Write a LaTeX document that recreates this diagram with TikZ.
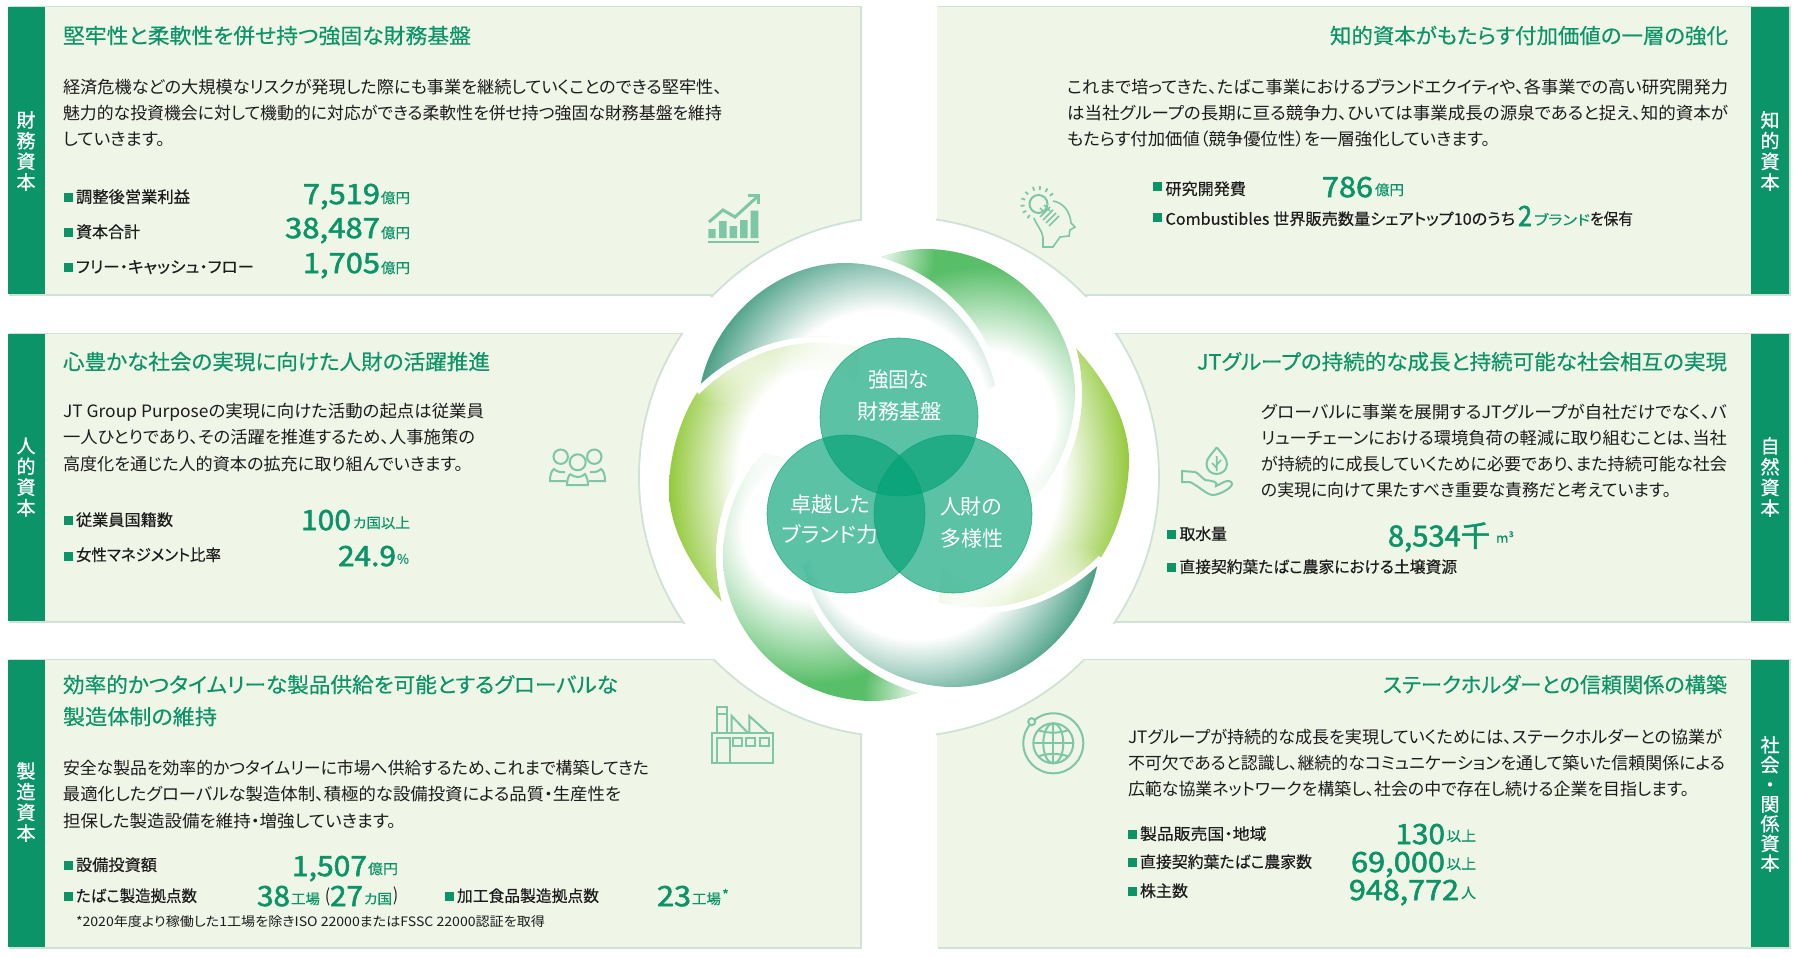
\documentclass[tikz,border=0pt]{standalone}
\usepackage{fontspec}
\setmainfont{Noto Sans CJK JP}[RawFeature=+palt]
\newfontfamily\jpm{Noto Sans CJK JP}[FakeBold=0.3,RawFeature=+palt]
\newfontfamily\jpn{Noto Sans CJK JP}[FakeBold=1.8,RawFeature=+palt]
\newfontfamily\jpv{Noto Sans CJK JP}[FakeBold=0.9,RawFeature=+palt]
\usetikzlibrary{fadings}
\definecolor{gr}{HTML}{0A9468}
\definecolor{panel}{HTML}{EFF5E7}
\definecolor{edgeg}{HTML}{CFE2D5}
\definecolor{ico}{HTML}{7DC7A7}
\definecolor{tx}{HTML}{1C1C1C}
\definecolor{teala}{HTML}{2B8F70}
\definecolor{greena}{HTML}{58BE68}
\definecolor{yela}{HTML}{93C93A}
\definecolor{venn}{HTML}{00A175}
\pgfdeclareradialshading{tealsh}{\pgfpoint{0bp}{0bp}}{color(0bp)=(white);color(14bp)=(white);color(25bp)=(teala);color(50bp)=(teala)}
\pgfdeclareradialshading{greensh}{\pgfpoint{0bp}{0bp}}{color(0bp)=(white);color(10bp)=(white);color(22bp)=(greena);color(50bp)=(greena)}
\pgfdeclareradialshading{yelsh}{\pgfpoint{0bp}{0bp}}{color(0bp)=(white);color(13bp)=(white);color(25bp)=(yela);color(50bp)=(yela)}
\tikzfading[name=blob, inner color=transparent!0, outer color=transparent!100]
\newcounter{nn}
\newcommand\T[7]{\stepcounter{nn}\node[txt,text=#2,anchor=base west] (t\thenn) at (#3,#4+0.36*#5) {#1\fontsize{#5}{#5}\selectfont\resizebox{#6pt}{\height}{#7}};}
\newcommand\B[2]{\fill[gr] (#1,#2-4.5) rectangle (#1+8.5,#2+4.5);}
\newcommand\V[4]{\stepcounter{nn}\node[txt,text=white,align=center,font=\jpv\fontsize{19}{#3}\selectfont] (t\thenn) at (#1,#2) {#4};}
\newcommand\Panel[4]{\fill[edgeg] (#1+1,#2-1) rectangle (#3+1.5,#4+1.8);\fill[panel] (#1,#2) rectangle (#3,#4);}
\newcommand\bladeset{%
  \begin{scope}
    \clip (1075,347) .. controls (1110,385) and (1129,425) .. (1129,460) .. controls (1129,490) and (1120,530) .. (1098,562) .. controls (1053,610) and (988,622) .. (938,608) -- (950,500) -- (1040,497) .. controls (1065,470) and (1082,435) .. (1082,395) .. controls (1082,378) and (1080,362) .. (1075,347) -- cycle;
    \shade[shading=yelsh] (840,260) rectangle (1130,680);
    \fill[white,path fading=blob] (1075,605) circle (60);
    \fill[white,path fading=blob] (960,615) circle (75);
  \end{scope}
  \begin{scope}
    \clip (876,259) .. controls (895,252) and (910,249) .. (927,249) .. controls (1010,250) and (1075,318) .. (1075,393) .. controls (1075,430) and (1060,470) .. (1035,497) -- (960,480) -- (995,385) .. controls (978,315) and (925,272) .. (876,259) -- cycle;
    \shade[shading=greensh] (810,245) rectangle (1160,595);
    \fill[white,path fading=blob] (875,255) circle (60);
    \fill[white,path fading=blob] (1040,505) circle (65);
  \end{scope}
  \begin{scope}
    \clip (700,388) .. controls (712,320) and (775,263) .. (845,263) .. controls (915,263) and (978,315) .. (995,385) -- (930,440) -- (860,342) .. controls (810,328) and (745,340) .. (700,388) -- cycle;
    \shade[shading=tealsh] (685,225) rectangle (1075,615);
  \end{scope}
}
\newcommand\bladegaps{%
  \draw[gap] (870,258) .. controls (925,270) and (982,312) .. (998,385);
  \draw[gap] (1072,345) .. controls (1077,360) and (1078.5,378) .. (1078.5,395) .. controls (1078.5,435) and (1064,472) .. (1038,498);
  \draw[gap] (697,392) .. controls (745,343) and (810,331) .. (862,345);
}
\begin{document}
\begin{tikzpicture}[x=1pt,y=-1pt,
  txt/.style={inner sep=0pt,outer sep=0pt},
  gap/.style={draw=white,line width=6pt},
  icon/.style={draw=ico,line width=2pt,fill=none},
  vennc/.style={circle,minimum size=158pt,inner sep=0pt,fill=venn,fill opacity=.64,draw=venn,draw opacity=.7,line width=.6pt}]
\useasboundingbox (0,0) rectangle (1800,958);
\fill[white] (0,0) rectangle (1800,958);
% panels
\Panel{8}{7}{860}{294}
\Panel{937}{7}{1789}{294}
\Panel{8}{334}{700}{621}
\Panel{1098}{334}{1789}{621}
\Panel{8}{660}{860}{947}
\Panel{937}{660}{1789}{947}
% central white disc cutting the panels
\begin{scope}
  \clip (7,6) rectangle (862,297) (936,6) rectangle (1791,297) (7,333) rectangle (702,624) (1096,333) rectangle (1791,624) (7,659) rectangle (862,950) (936,659) rectangle (1791,950);
  \draw[draw=edgeg,line width=1.8pt,fill=white] (899,477) circle (260);
\end{scope}
% strips
\fill[gr] (8,7) rectangle (45,294);
\fill[gr] (8,334) rectangle (45,621);
\fill[gr] (8,660) rectangle (45,947);
\fill[gr] (1751,7) rectangle (1789,294);
\fill[gr] (1751,334) rectangle (1789,621);
\fill[gr] (1751,660) rectangle (1789,947);
\V{26}{151}{20.7}{財\\務\\資\\本}
\V{26}{477}{20.7}{人\\的\\資\\本}
\V{26}{802}{20.7}{製\\造\\資\\本}
\V{1770}{151}{20.7}{知\\的\\資\\本}
\V{1770}{477}{20.7}{自\\然\\資\\本}
\V{1770}{804}{19.7}{社\\会\\・\\関\\係\\資\\本}
% swirl
\bladeset
\begin{scope}[rotate around={180:(899,475)}]\bladeset\end{scope}
\bladegaps
\begin{scope}[rotate around={180:(899,475)}]\bladegaps\end{scope}
% venn
\node[vennc] (va) at (899,417) {};
\node[vennc] (vb) at (846,514) {};
\node[vennc] (vc) at (953,514) {};
\T{}{white}{868}{380}{21}{61}{強固な}
\T{}{white}{857}{412}{21}{85}{財務基盤}
\T{}{white}{790}{505}{21}{80}{卓越した}
\T{}{white}{782}{535}{21}{96}{ブランド力}
\T{}{white}{940}{507}{21}{62}{人財の}
\T{}{white}{940}{539}{21}{63}{多様性}
% TL
\T{\jpm}{gr}{63}{36}{21}{408}{堅牢性と柔軟性を併せ持つ強固な財務基盤}
\T{}{tx}{63}{87}{17}{659}{経済危機などの大規模なリスクが発現した際にも事業を継続していくことのできる堅牢性、}
\T{}{tx}{63}{113}{17}{659}{魅力的な投資機会に対して機動的に対応ができる柔軟性を併せ持つ強固な財務基盤を維持}
\T{}{tx}{63}{139}{17}{102}{していきます。}
\B{64}{197}\T{\jpm}{tx}{76}{197}{16}{114}{調整後営業利益}
\B{64}{232}\T{\jpm}{tx}{76}{232}{16}{64}{資本合計}
\B{64}{267}\T{\jpm}{tx}{76}{267}{16}{178}{フリー・キャッシュ・フロー}
\T{\jpn}{gr}{303}{194}{28}{77}{7,519}
\T{\jpn}{gr}{285}{228}{28}{95}{38,487}
\T{\jpn}{gr}{303}{263}{28}{77}{1,705}
\T{\jpm}{gr}{381}{198}{14}{29}{億円}
\T{\jpm}{gr}{381}{233}{14}{29}{億円}
\T{\jpm}{gr}{381}{268}{14}{29}{億円}
% TR
\T{\jpm}{gr}{1330}{36}{21}{398}{知的資本がもたらす付加価値の一層の強化}
\T{}{tx}{1067}{87}{17}{661}{これまで培ってきた、たばこ事業におけるブランドエクイティや、各事業での高い研究開発力}
\T{}{tx}{1067}{113}{17}{661}{は当社グループの長期に亘る競争力、ひいては事業成長の源泉であると捉え、知的資本が}
\T{}{tx}{1067}{139}{17}{423}{もたらす付加価値（競争優位性）を一層強化していきます。}
\B{1153}{186}\T{\jpm}{tx}{1165.5}{189}{16}{80.5}{研究開発費}
\T{\jpn}{gr}{1322}{187}{28}{51}{786}
\T{\jpm}{gr}{1375}{190}{14}{29}{億円}
\B{1153}{217}\T{\jpm}{tx}{1165.5}{219}{16}{349.5}{Combustibles 世界販売数量シェアトップ10のうち}
\T{\jpn}{gr}{1518}{216}{28}{14}{2}
\T{\jpm}{gr}{1534}{220}{14}{56}{ブランド}
\T{\jpm}{tx}{1590}{219}{16}{43}{を保有}
% ML
\T{\jpm}{gr}{63}{362}{21}{427}{心豊かな社会の実現に向けた人財の活躍推進}
\T{}{tx}{63}{411}{17}{421}{JT Group Purposeの実現に向けた活動の起点は従業員}
\T{}{tx}{63}{437.5}{17}{412}{一人ひとりであり、その活躍を推進するため、人事施策の}
\T{}{tx}{63}{464}{17}{400}{高度化を通じた人的資本の拡充に取り組んでいきます。}
\B{64}{520}\T{\jpm}{tx}{76}{520}{16}{97}{従業員国籍数}
\B{64}{556}\T{\jpm}{tx}{76}{555}{16}{145}{女性マネジメント比率}
\T{\jpn}{gr}{301}{520}{28}{50}{100}
\T{\jpm}{gr}{353}{523}{14}{57}{カ国以上}
\T{\jpn}{gr}{338}{556}{28}{58}{24.9}
\T{\jpm}{gr}{397}{559}{13}{12}{\%}
% MR
\T{\jpm}{gr}{1197}{362}{21}{530}{JTグループの持続的な成長と持続可能な社会相互の実現}
\T{}{tx}{1261}{412}{17}{466}{グローバルに事業を展開するJTグループが自社だけでなく、バ}
\T{}{tx}{1261}{438}{17}{466}{リューチェーンにおける環境負荷の軽減に取り組むことは、当社}
\T{}{tx}{1261}{464}{17}{466}{が持続的に成長していくために必要であり、また持続可能な社会}
\T{}{tx}{1261}{490}{17}{410}{の実現に向けて果たすべき重要な責務だと考えています。}
\B{1167}{534}\T{\jpm}{tx}{1179.5}{534}{16}{47.5}{取水量}
\T{\jpm}{tx}{1179.5}{567}{16}{277.5}{直接契約葉たばこ農家における土壌資源}
\B{1167}{567}
\T{\jpn}{gr}{1388}{536}{29}{102}{8,534千}
\T{\jpm}{gr}{1496}{538}{13}{18}{m³}
% BL
\T{\jpm}{gr}{63}{685}{21}{555}{効率的かつタイムリーな製品供給を可能とするグローバルな}
\T{\jpm}{gr}{63}{717}{21}{154}{製造体制の維持}
\T{}{tx}{63}{768}{17}{586}{安全な製品を効率的かつタイムリーに市場へ供給するため、これまで構築してきた}
\T{}{tx}{63}{794}{17}{558}{最適化したグローバルな製造体制、積極的な設備投資による品質・生産性を}
\T{}{tx}{63}{821}{17}{333}{担保した製造設備を維持・増強していきます。}
\B{64}{865}\T{\jpm}{tx}{76}{865}{16}{81}{設備投資額}
\T{\jpn}{gr}{292}{866}{28}{75}{1,507}
\T{\jpm}{gr}{368}{869}{14}{30}{億円}
\B{64}{896}\T{\jpm}{tx}{76}{896}{16}{121}{たばこ製造拠点数}
\T{\jpn}{gr}{257}{896}{28}{33}{38}
\T{\jpm}{gr}{291}{899}{14}{29}{工場}
\T{}{tx}{325}{896}{18}{5}{(}
\T{\jpn}{gr}{330}{896}{28}{33}{27}
\T{\jpm}{gr}{364}{899}{14}{28}{カ国}
\T{}{tx}{393}{895}{18}{5}{)}
\B{445}{896}\T{\jpm}{tx}{457}{896}{16}{142}{加工食品製造拠点数}
\T{\jpn}{gr}{657}{896}{28}{34}{23}
\T{\jpm}{gr}{692}{899}{14}{29}{工場}
\T{\jpm}{gr}{722}{895}{14}{7}{*}
\T{}{tx}{76}{922}{13}{469}{*2020年度より稼働した1工場を除きISO 22000またはFSSC 22000認証を取得}
% BR
\T{\jpm}{gr}{1383}{685}{21}{344}{ステークホルダーとの信頼関係の構築}
\T{}{tx}{1128}{737}{17}{594}{JTグループが持続的な成長を実現していくためには、ステークホルダーとの協業が}
\T{}{tx}{1128}{763}{17}{597}{不可欠であると認識し、継続的なコミュニケーションを通して築いた信頼関係による}
\T{}{tx}{1128}{789}{17}{561}{広範な協業ネットワークを構築し、社会の中で存在し続ける企業を目指します。}
\B{1128}{834}\T{\jpm}{tx}{1140}{834}{16}{126.5}{製品販売国・地域}
\B{1128}{862}\T{\jpm}{tx}{1140}{862}{16}{172}{直接契約葉たばこ農家数}
\B{1128}{891}\T{\jpm}{tx}{1140}{891}{16}{48}{株主数}
\T{\jpn}{gr}{1395.5}{834}{28}{49.5}{130}
\T{\jpn}{gr}{1351}{862}{28}{94}{69,000}
\T{\jpn}{gr}{1349}{890}{28}{110}{948,772}
\T{\jpm}{gr}{1446.5}{836}{14}{29.5}{以上}
\T{\jpm}{gr}{1446.5}{864}{14}{29.5}{以上}
\T{\jpm}{gr}{1461}{893}{14}{15}{人}
% icon: chart
\fill[ico] (708.3,229) rectangle (715.7,238) (719,221) rectangle (726.7,238) (729.7,226) rectangle (737,238) (740,220) rectangle (747.7,238) (750.7,210.7) rectangle (758.3,238);
\draw[ico,line width=2.5pt] (708,242) -- (759,242);
\draw[ico,line width=3pt] (709,222) -- (723,210) -- (735,217) -- (757,197);
\draw[ico,line width=3pt] (748,195.5) -- (758,195.5) -- (758,204);
% icon: head
\draw[icon] (1038.5,204) circle (9);
\foreach \a in {137,108,85,60,36,162,186,209,232}
  \draw[ico,line width=1.8pt] ({1038.5+14*cos(\a)},{204-14*sin(\a)}) -- ({1038.5+18*cos(\a)},{204-18*sin(\a)});
\draw[icon,line width=1.6pt] (1053,201) .. controls (1064,203) and (1070,212) .. (1071,223) -- (1075,227) -- (1070,230) -- (1069,236) -- (1060,237) -- (1053,247) -- (1043,247) -- (1043,238) .. controls (1042,230) and (1037,226) .. (1034,218);
\draw[icon,line width=1.5pt] (1040,208) -- (1045,213) (1044,205) -- (1050,211);
\foreach \d in {0,3,6,9}
  \draw[ico,line width=1.6pt] ({1045+\d+5},{212+\d-5}) -- ({1045+\d-5},{212+\d+5});
% icon: people
\draw[icon] (560.7,456.7) circle (7.2) (594.3,456.7) circle (7.2) (577.7,462.3) circle (8);
\draw[icon] (565,472) .. controls (560,473) and (556,471) .. (554,469) .. controls (551,471) and (550,476) .. (550,481) -- (566,481);
\draw[icon] (590,472) .. controls (595,473) and (599,471) .. (601,469) .. controls (604,471) and (605,476) .. (605,481) -- (589,481);
\draw[icon] (570,474) .. controls (575,478) and (581,478) .. (585,474) .. controls (587,477) and (588,481) .. (588,485) -- (567,485) .. controls (567,481) and (568,477) .. (570,474);
% icon: plant
\draw[icon] (1216.7,447.3) .. controls (1222,454) and (1227,458) .. (1227,464) .. controls (1227,470) and (1222,474) .. (1216.7,474) .. controls (1211,474) and (1206.5,470) .. (1206.5,464) .. controls (1206.5,458) and (1212,454) .. (1216.7,447.3);
\draw[icon,line width=1.6pt] (1216.7,456) -- (1216.7,471) (1212,463) -- (1216.7,468) (1221,460) -- (1216.7,465);
\draw[icon] (1182,471) -- (1182,482) -- (1190,482) .. controls (1200,487) and (1207,495) .. (1213,495) .. controls (1219,495) and (1232,488) .. (1232,484) .. controls (1232,481) and (1228,480) .. (1224,482) -- (1216,486) .. controls (1218,482) and (1214,481) .. (1205,480) .. controls (1200,476) and (1198,473) .. (1195,472) -- cycle;
% icon: factory
\draw[icon] (712.3,732.7) rectangle (773.3,763.3);
\draw[icon] (716.7,732.7) -- (716.7,706.7) -- (726.7,706.7) -- (726.7,732.7) (716.7,714) -- (726.7,714);
\draw[icon] (731.7,732.7) -- (731.7,716) -- (747.7,732.7) (749.3,732.7) -- (749.3,716) -- (767.7,732.7);
\draw[icon] (716.7,763.3) -- (716.7,738.3) -- (730,738.3) -- (730,763.3);
\draw[icon] (733.3,738.3) rectangle (741.7,746) (746,738.3) rectangle (755,746) (760,738.3) rectangle (769,746);
% icon: globe
\draw[icon] (1053.3,743.3) circle (30);
\draw[icon] (1053.3,743.3) circle (20);
\draw[icon] (1053.3,743.3) ellipse (10 and 20);
\draw[icon] (1053.3,723.3) -- (1053.3,763.3) (1033.3,743.3) -- (1073.3,743.3);
\draw[icon] (1038,730) .. controls (1046,733.5) and (1060,733.5) .. (1068.6,730);
\draw[icon] (1038,756.6) .. controls (1046,753) and (1060,753) .. (1068.6,756.6);
\draw[draw=ico,line width=2pt,fill=panel] (1031.7,721.7) circle (3.5);
\end{tikzpicture}
\end{document}
